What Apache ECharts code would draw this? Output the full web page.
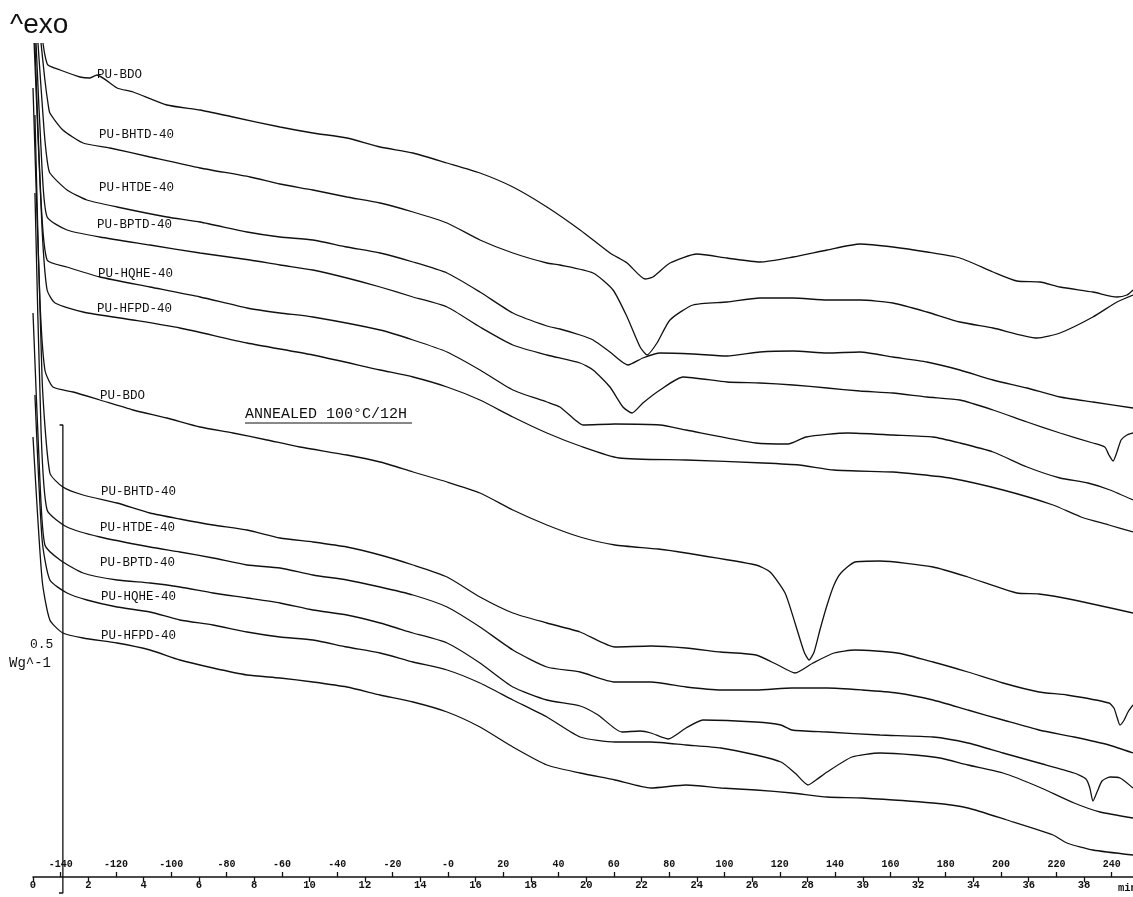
<!DOCTYPE html>
<html><head><meta charset="utf-8">
<script src="https://cdn.jsdelivr.net/npm/echarts@6/dist/echarts.min.js"></script>
<style>html,body{margin:0;padding:0;background:#fff}#c{width:1133px;height:897px}</style>
</head><body><div id="c"></div>
<script>
// Temperature (°C) / heat flow (arbitrary units, exo up)
const temperatureTicks = [-140,-120,-100,-80,-60,-40,-20,0,20,40,60,80,100,120,140,160,180,200,220,240];
const timeTicks = [0,2,4,6,8,10,12,14,16,18,20,22,24,26,28,30,32,34,36,38];
const sampleNames = ['PU-BDO','PU-BHTD-40','PU-HTDE-40','PU-BPTD-40','PU-HQHE-40','PU-HFPD-40'];

const puBDO = [[-146.4,83.4],[-145.7,82.2],[-144.6,81.2],[-140.2,80.7],[-133.0,80.0],[-129.4,79.9],[-126.9,80.2],[-119.6,78.9],[-113.8,78.5],[-101.6,77.2],[-89.6,76.7],[-77.7,76.0],[-60.7,75.0],[-48.8,74.4],[-36.5,73.9],[-24.5,73.0],[-12.6,72.4],[-0.3,71.4],[11.6,70.4],[23.5,69.0],[35.8,67.0],[47.8,64.7],[58.6,62.4],[64.8,61.4],[71.3,59.8],[74.1,60.0],[80.3,61.4],[90.1,62.3],[100.9,61.9],[112.8,61.5],[124.8,62.0],[137.1,62.7],[149.0,63.3],[160.9,63.0],[173.2,62.5],[185.1,61.9],[197.1,60.5],[205.7,59.6],[214.1,59.5],[221.3,59.0],[233.2,58.5],[241.9,58.0],[245.5,58.2],[247.7,58.7]];
const puBHTD40 = [[-147.1,83.4],[-145.7,79.7],[-144.6,77.4],[-143.9,76.4],[-139.2,74.7],[-131.9,73.4],[-122.2,72.9],[-107.7,72.0],[-89.6,70.9],[-71.5,70.0],[-60.7,69.3],[-48.8,68.7],[-36.5,68.0],[-24.5,67.4],[-12.6,66.5],[-0.3,65.4],[11.6,63.7],[23.5,62.4],[35.8,61.4],[40.5,61.2],[52.5,60.4],[59.7,58.7],[64.8,56.0],[69.5,53.0],[72.0,52.2],[75.6,53.4],[80.3,55.7],[88.6,57.2],[100.9,57.5],[112.8,57.9],[124.8,57.9],[137.1,57.7],[149.0,57.7],[160.9,57.4],[173.2,56.5],[185.1,55.5],[197.1,54.9],[213.0,53.9],[221.3,54.4],[233.2,56.0],[241.9,57.5],[247.7,58.2]];
const puHTDE40 = [[-148.2,83.4],[-146.0,74.7],[-144.9,71.7],[-143.9,70.4],[-137.7,68.7],[-130.5,67.7],[-119.6,67.0],[-101.6,66.0],[-89.6,65.5],[-72.6,64.5],[-60.7,64.0],[-48.8,63.7],[-36.5,63.0],[-24.5,62.4],[-12.6,61.5],[-0.3,60.4],[11.6,58.5],[23.5,56.4],[35.8,55.1],[40.5,54.8],[47.8,54.2],[52.5,53.7],[58.6,52.5],[65.1,51.2],[70.5,51.9],[76.7,52.4],[88.6,52.3],[100.9,52.1],[112.8,52.5],[124.8,52.6],[137.1,52.4],[149.0,52.5],[160.9,52.0],[173.2,51.5],[185.1,50.7],[197.1,49.7],[209.4,48.9],[221.3,48.0],[233.2,47.5],[247.7,46.9]];
const puBPTD40 = [[-148.9,83.4],[-146.7,70.7],[-144.9,66.0],[-137.7,64.7],[-125.8,64.0],[-107.7,63.2],[-89.6,62.4],[-71.5,61.7],[-60.7,61.2],[-48.8,60.7],[-36.5,59.9],[-24.5,59.0],[-12.6,58.0],[-0.3,57.0],[11.6,55.0],[23.5,53.2],[35.8,52.2],[47.8,51.4],[52.5,50.7],[58.6,49.0],[63.3,47.0],[66.6,46.4],[70.5,47.4],[76.7,48.7],[85.0,50.0],[100.9,49.5],[112.8,49.4],[124.8,49.2],[137.1,48.9],[149.0,48.6],[160.9,48.4],[173.2,48.0],[185.1,47.7],[197.1,46.7],[209.4,45.5],[221.3,44.4],[233.2,43.4],[237.5,43.0],[239.0,42.2],[240.5,41.6],[241.9,42.5],[243.4,43.7],[245.5,44.2],[247.7,44.4]];
const puHQHE40 = [[-149.3,83.4],[-147.1,67.7],[-144.9,61.7],[-137.7,61.0],[-125.8,60.0],[-107.7,59.0],[-89.6,58.0],[-72.6,56.9],[-60.7,56.4],[-48.8,56.0],[-24.5,54.7],[-12.6,53.7],[-0.3,52.5],[11.6,50.7],[23.5,48.7],[35.8,47.5],[40.5,47.0],[46.0,45.7],[48.8,45.2],[60.4,45.3],[76.7,45.2],[86.1,44.7],[111.4,43.4],[123.0,43.3],[129.5,44.0],[144.6,44.4],[160.9,44.2],[175.4,44.0],[185.1,43.4],[197.1,42.5],[209.4,41.0],[221.3,39.9],[231.4,39.4],[239.4,38.7],[247.7,37.7]];
const puHFPD40 = [[-149.6,83.4],[-146.7,64.7],[-144.9,58.7],[-142.0,57.4],[-131.9,56.5],[-113.8,55.7],[-96.9,54.9],[-72.6,53.4],[-48.8,52.2],[-24.5,50.7],[-12.6,50.0],[-0.3,49.0],[11.6,47.7],[23.5,46.0],[35.8,44.4],[47.8,43.1],[61.9,41.9],[86.1,41.7],[113.9,41.4],[127.0,41.2],[139.6,40.7],[160.9,40.5],[168.9,40.3],[181.5,39.9],[200.7,38.7],[218.8,37.2],[228.9,36.0],[239.0,35.2],[247.7,34.5]];

// annealed 100 °C / 12 h
const annBDO = [[-150.0,78.9],[-147.5,57.7],[-145.7,50.7],[-142.8,49.0],[-135.5,48.5],[-125.8,47.7],[-113.8,46.7],[-101.6,45.9],[-89.6,45.0],[-77.7,44.4],[-65.4,43.7],[-53.5,43.0],[-36.5,42.2],[-24.5,41.5],[-12.6,40.5],[-0.3,39.5],[11.6,38.4],[23.5,36.7],[35.8,35.2],[47.8,34.0],[60.4,33.2],[76.0,32.8],[86.1,32.4],[111.4,31.2],[116.5,30.5],[121.9,28.4],[125.5,25.4],[128.8,22.5],[130.6,21.7],[132.4,22.5],[134.5,24.7],[137.1,27.2],[139.6,29.2],[142.1,30.4],[147.2,31.5],[156.2,31.6],[175.4,31.0],[188.0,30.0],[205.7,28.4],[213.7,28.3],[226.4,27.7],[247.7,26.4]];
const annBHTD40 = [[-149.3,76.2],[-146.7,49.7],[-143.9,40.4],[-139.2,39.0],[-131.9,38.2],[-119.6,37.4],[-107.7,36.4],[-96.9,35.8],[-84.9,35.2],[-72.6,34.7],[-60.7,33.9],[-48.8,33.5],[-36.5,33.0],[-24.5,32.2],[-12.6,31.2],[-0.3,30.0],[11.6,28.0],[23.5,26.4],[35.8,25.4],[47.8,24.5],[60.4,23.0],[73.4,23.1],[86.1,22.9],[98.7,22.5],[111.4,22.2],[119.3,21.2],[125.5,20.4],[132.0,21.4],[139.6,22.4],[147.2,22.7],[162.4,22.4],[175.4,21.5],[188.0,20.5],[200.7,19.4],[213.7,18.5],[223.8,18.2],[239.0,17.4],[240.8,16.9],[241.9,16.0],[243.0,15.2],[244.5,15.7],[245.9,16.5],[247.7,17.2]];
const annHTDE40 = [[-149.3,68.4],[-147.1,44.7],[-144.9,36.7],[-137.7,35.0],[-125.8,34.0],[-107.7,33.0],[-96.9,32.5],[-84.9,31.9],[-72.6,31.2],[-60.7,30.9],[-48.8,30.2],[-36.5,29.7],[-24.5,29.0],[-12.6,28.2],[-0.3,27.0],[11.6,25.0],[23.5,22.7],[35.8,21.0],[47.8,20.5],[60.4,19.5],[73.4,19.5],[86.1,19.0],[98.7,18.7],[111.4,18.7],[124.4,18.9],[137.1,18.9],[149.7,18.7],[162.4,18.4],[175.4,17.7],[188.0,16.7],[200.7,15.7],[213.7,14.7],[226.4,14.0],[239.0,13.2],[247.7,12.4]];
const annBPTD40 = [[-150.0,56.4],[-147.5,39.7],[-145.7,33.2],[-140.2,31.7],[-131.9,30.4],[-119.6,29.7],[-107.7,29.4],[-96.9,29.0],[-84.9,28.4],[-72.6,27.9],[-60.7,27.4],[-48.8,26.7],[-36.5,26.2],[-24.5,25.4],[-12.6,24.4],[-0.3,23.4],[11.6,21.4],[23.5,19.0],[35.8,17.7],[47.8,17.1],[54.3,16.2],[62.9,14.5],[69.5,14.6],[73.4,14.4],[79.6,13.8],[86.1,14.9],[92.2,15.7],[111.4,15.5],[120.4,15.2],[124.4,14.7],[137.1,14.5],[156.2,14.2],[175.4,14.0],[188.0,13.4],[200.7,12.4],[213.7,11.4],[226.4,10.4],[230.7,9.8],[232.1,8.9],[233.2,7.6],[234.7,8.5],[236.5,9.6],[239.4,10.0],[243.0,9.9],[247.7,8.9]];
const annHQHE40 = [[-149.3,48.2],[-146.7,33.7],[-143.9,29.7],[-137.7,28.4],[-130.5,27.7],[-119.6,27.0],[-107.7,26.5],[-96.9,25.7],[-84.9,25.2],[-72.6,24.5],[-60.7,24.0],[-48.8,23.7],[-36.5,23.0],[-24.5,22.4],[-12.6,21.5],[-0.3,20.7],[11.6,19.4],[23.5,17.7],[35.8,16.0],[47.8,14.0],[60.4,13.5],[73.4,13.5],[86.1,13.2],[98.7,12.9],[111.4,12.2],[120.4,11.5],[125.5,10.4],[130.2,9.2],[133.1,9.7],[137.1,10.5],[146.1,12.0],[156.2,12.4],[168.9,12.2],[177.9,11.9],[188.0,11.2],[200.7,10.4],[213.7,9.0],[226.4,7.4],[235.8,6.5],[247.7,5.9]];
const annHFPD40 = [[-150.0,44.0],[-146.7,29.7],[-143.9,25.7],[-139.2,24.4],[-131.9,23.9],[-119.6,23.4],[-107.7,22.7],[-96.9,21.7],[-84.9,20.9],[-72.6,20.2],[-60.7,19.9],[-48.8,19.5],[-36.5,19.0],[-24.5,18.2],[-12.6,17.5],[-0.3,16.5],[11.6,15.0],[23.5,13.0],[35.8,11.2],[47.8,10.4],[60.4,9.7],[73.4,8.9],[86.1,9.2],[98.7,8.9],[111.4,8.7],[124.4,8.4],[137.1,8.0],[149.7,7.9],[175.4,7.4],[188.0,6.9],[202.1,5.7],[218.8,4.2],[223.8,3.4],[233.2,2.7],[247.7,2.2]];

// 0.5 W/g scale bar
const scaleBar = [[-140.4,45.2],[-139.2,45.2],[-139.2,-1.6],[-140.6,-1.6]];

const curvesAsReceived = [puBDO, puBHTD40, puHTDE40, puBPTD40, puHQHE40, puHFPD40];
const curvesAnnealed = [annBDO, annBHTD40, annHTDE40, annBPTD40, annHQHE40, annHFPD40];

const chart = echarts.init(document.getElementById('c'), null, {renderer:'canvas'});
const mono = '"Liberation Mono", "DejaVu Sans Mono", monospace';
const lineBase = {type:'line', xAxisIndex:0, yAxisIndex:0, showSymbol:false, symbol:'none', smooth:0.2,
  lineStyle:{color:'#111', width:1.3}, clip:false, silent:true, z:3};
const series = [];
curvesAsReceived.forEach((d,i)=>series.push(Object.assign({}, lineBase, {name:sampleNames[i], data:d})));
curvesAnnealed.forEach((d,i)=>series.push(Object.assign({}, lineBase, {name:sampleNames[i]+' (annealed)', data:d})));
series.push({type:'line', xAxisIndex:0, yAxisIndex:0, data:scaleBar, showSymbol:false, symbol:'none', smooth:false, clip:false, silent:true,
  lineStyle:{color:'#111', width:1.3}});

const topLabelPos = [[97,75],[99,135],[99,188],[97,225],[98,274],[97,309]];
const annLabelPos = [[100,396],[101,492],[100,528],[100,563],[101,597],[101,636]];
const graphics = [];
function txt(t,x,y,font,extra){graphics.push({type:'text', x:x, y:y, z:10, style:Object.assign({text:t, font:font, fill:'#111', textVerticalAlign:'middle', textAlign:'left'}, extra||{})});}
topLabelPos.forEach((p,i)=>txt(sampleNames[i], p[0], p[1], '12.5px '+mono));
annLabelPos.forEach((p,i)=>txt(sampleNames[i], p[0], p[1], '12.5px '+mono));
txt('ANNEALED 100°C/12H', 245, 414, '15px '+mono);
graphics.push({type:'line', z:10, shape:{x1:245,y1:423,x2:412,y2:423}, style:{stroke:'#111', lineWidth:1.2}});
txt('^exo', 10, 25, '28px "Liberation Sans", Arial, sans-serif');
txt('0.5', 30, 645, '13px '+mono);
txt('Wg^-1', 9, 663, '14px '+mono);
txt('min', 1118, 888, 'bold 10.5px '+mono);

chart.setOption({
  animation:false,
  backgroundColor:'#fff',
  grid:{left:33, right:0, top:0, bottom:20, containLabel:false},
  xAxis:[
    {type:'value', min:-150, max:247.7, position:'bottom',
      axisLine:{show:false}, splitLine:{show:false},
      axisTick:{show:true, inside:true, length:5, customValues:temperatureTicks, lineStyle:{color:'#111', width:1.3}},
      axisLabel:{show:true, inside:true, margin:8, customValues:temperatureTicks,
        formatter:function(v){return v===0?'-0':String(v);},
        color:'#111', fontFamily:mono, fontSize:10, fontWeight:'bold'}},
    {type:'value', min:0, max:39.77, position:'bottom',
      axisLine:{show:true, onZero:false, lineStyle:{color:'#111', width:1.5}}, splitLine:{show:false},
      axisTick:{show:true, length:5, customValues:timeTicks, lineStyle:{color:'#111', width:1.3}},
      axisLabel:{show:true, margin:3, customValues:timeTicks, color:'#111', fontFamily:mono, fontSize:10.5, fontWeight:'bold'}}
  ],
  yAxis:{type:'value', min:0, max:87.7, show:false},
  series:series,
  graphic:graphics
});
</script></body></html>
